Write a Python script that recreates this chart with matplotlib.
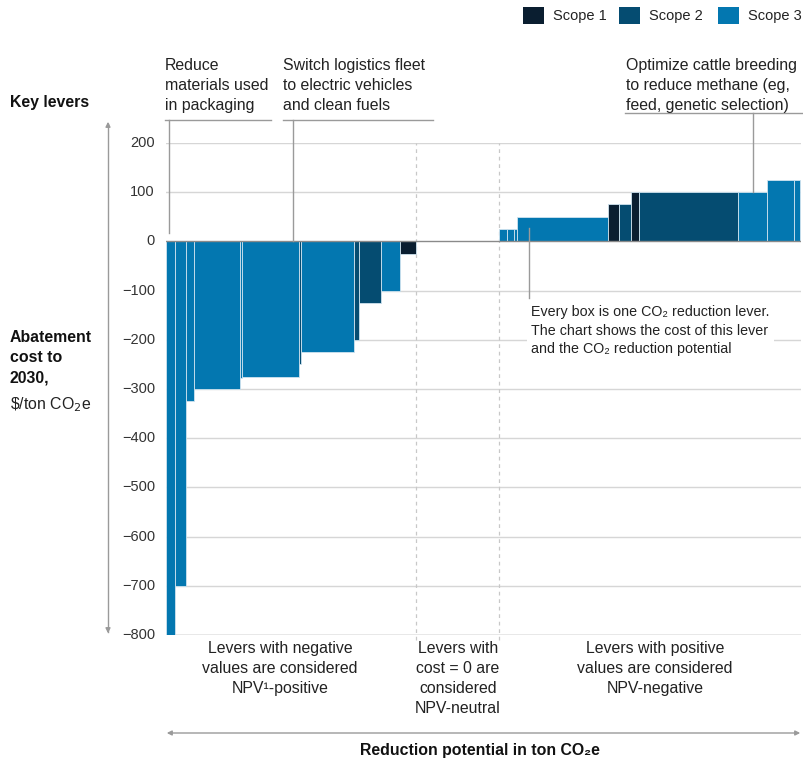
import matplotlib.pyplot as plt
from matplotlib.patches import Rectangle
import numpy as np

plt.rcParams['font.family'] = ['Liberation Sans', 'DejaVu Sans']

# lever widths (reduction potential) and abatement cost, left to right
widths = [9.5, 11, 8, 46, 1.5, 57.5, 2, 52.5, 5.5, 22, 19, 15.5,
          83,
          8.5, 7, 2.5, 91, 11.5, 12, 8, 98.3, 29, 27.3, 5.7]
costs = [-800, -700, -325, -300, -277, -275, -250, -225, -200, -125, -100, -25,
         0,
         25, 25, 25, 50, 75, 75, 100, 100, 100, 125, 125]
scopes = [3, 3, 3, 3, 3, 3, 2, 3, 2, 2, 3, 1,
          0,
          3, 3, 3, 3, 1, 2, 1, 2, 3, 3, 3]
scope_colors = {1: '#0a1e30', 2: '#054c71', 3: '#0377b0'}
yticks = [200, 100, 0, -100, -200, -300, -400, -500, -600, -700, -800]

W, H = 804, 761
fig = plt.figure(figsize=(W / 100, H / 100), dpi=100)


def px(x, y):
    return x / W, 1 - y / H


ax = fig.add_axes([166 / W, 1 - 635 / H, 635 / W, (635 - 143) / H])
ax.set_xlim(0, 635)
ax.set_ylim(-800, 200)
for s in ax.spines.values():
    s.set_visible(False)
ax.set_xticks([])
ax.set_yticks([])

# grid
for v in yticks:
    c = '#8a8a8a' if v in (0, -800) else '#d6d6d6'
    ax.axhline(v, color=c, lw=1, zorder=1 if v != 0 else 3)

lefts = np.concatenate([[0], np.cumsum(widths)[:-1]])
for x0, w, c, s in zip(lefts, widths, costs, scopes):
    if s == 0:
        zx0, zx1 = x0, x0 + w
        continue
    ax.add_patch(Rectangle((x0, 0), w, c, facecolor=scope_colors[s],
                           edgecolor='#cfe3ef', lw=0.6, zorder=2))

# zero-cost region bounds
for xv in (zx0, zx1):
    ax.plot([xv, xv], [-810, 200], ls=(0, (3, 3)), color='#c8c8c8', lw=0.9,
            clip_on=False, zorder=1)

# y tick labels
for v in yticks:
    lab = str(v).replace('-', '\u2212')
    ax.text(-11, v, lab, ha='right', va='center', fontsize=10.5, color='#333333')

# annotation leader lines
lc = '#9a9a9a'
ax.plot([-1, 105], [246, 246], color=lc, lw=1, clip_on=False)
ax.plot([3, 3], [246, 17], color=lc, lw=1, clip_on=False)
ax.plot([117, 267], [246, 246], color=lc, lw=1, clip_on=False)
ax.plot([127.5, 127.5], [246, 0], color=lc, lw=1, clip_on=False, zorder=4)
ax.plot([459, 640], [260, 260], color=lc, lw=1, clip_on=False)
ax.plot([587, 587], [260, 100], color=lc, lw=1, clip_on=False, zorder=4)
ax.plot([363, 363], [28, -116], color=lc, lw=1, clip_on=False, zorder=4)

tc = '#222222'
fs = 11.4
ls = 1.42
fig.text(*px(165, 58), 'Reduce\nmaterials used\nin packaging', ha='left', va='top',
         fontsize=fs, color=tc, linespacing=ls)
fig.text(*px(283, 58), 'Switch logistics fleet\nto electric vehicles\nand clean fuels',
         ha='left', va='top', fontsize=fs, color=tc, linespacing=ls)
fig.text(*px(626, 58), 'Optimize cattle breeding\nto reduce methane (eg,\nfeed, genetic selection)',
         ha='left', va='top', fontsize=fs, color=tc, linespacing=ls)
ax.text(365, -130, 'Every box is one CO\u2082 reduction lever.\nThe chart shows the cost of this lever\nand the CO\u2082 reduction potential',
        ha='left', va='top', fontsize=10.3, color=tc, linespacing=1.4, zorder=5,
        bbox=dict(facecolor='white', edgecolor='none', pad=3))

# y axis arrow and labels
fig.add_artist(plt.Line2D([108 / W, 108 / W], [1 - 124 / H, 1 - 632 / H], color='#9a9a9a', lw=1))
ax.annotate('', xy=px(108, 119), xytext=px(108, 130), xycoords='figure fraction',
            arrowprops=dict(arrowstyle='-|>', color='#9a9a9a', lw=1, mutation_scale=7))
ax.annotate('', xy=px(108, 636), xytext=px(108, 625), xycoords='figure fraction',
            arrowprops=dict(arrowstyle='-|>', color='#9a9a9a', lw=1, mutation_scale=7))
fig.text(*px(10, 103), 'Key levers', ha='left', va='center', fontsize=fs,
         fontweight='bold', color='#111111')
fig.text(*px(10, 330), 'Abatement\ncost to\n2030,', ha='left', va='top', fontsize=fs,
         fontweight='bold', color='#111111', linespacing=ls)
fig.text(*px(10, 395), r'\$/ton CO$_2$e', ha='left', va='top', fontsize=fs, color=tc)

# bottom notes
fig.text(*px(280, 641), 'Levers with negative\nvalues are considered\nNPV\u00b9-positive', ha='center',
         va='top', fontsize=fs, color=tc, linespacing=ls)
fig.text(*px(458, 641), 'Levers with\ncost = 0 are\nconsidered\nNPV-neutral', ha='center',
         va='top', fontsize=fs, color=tc, linespacing=ls)
fig.text(*px(655, 641), 'Levers with positive\nvalues are considered\nNPV-negative', ha='center',
         va='top', fontsize=fs, color=tc, linespacing=ls)

# x axis arrow
ax.annotate('', xy=px(803, 733), xytext=px(164, 733), xycoords='figure fraction',
            arrowprops=dict(arrowstyle='<|-|>', color='#9a9a9a', lw=1, mutation_scale=7))
fig.text(*px(480, 750), 'Reduction potential in ton CO\u2082e', ha='center', va='center',
         fontsize=fs, fontweight='bold', color='#111111')

# legend
for i, (x0, name) in enumerate([(523, 'Scope 1'), (619, 'Scope 2'), (718, 'Scope 3')]):
    fig.add_artist(Rectangle(px(x0, 24), 21 / W, 17 / H, transform=fig.transFigure,
                             facecolor=scope_colors[i + 1], edgecolor='none'))
    fig.text(*px(x0 + 30, 16), name, ha='left', va='center', fontsize=10.5, color=tc)

fig.savefig('out.png', dpi=100)
